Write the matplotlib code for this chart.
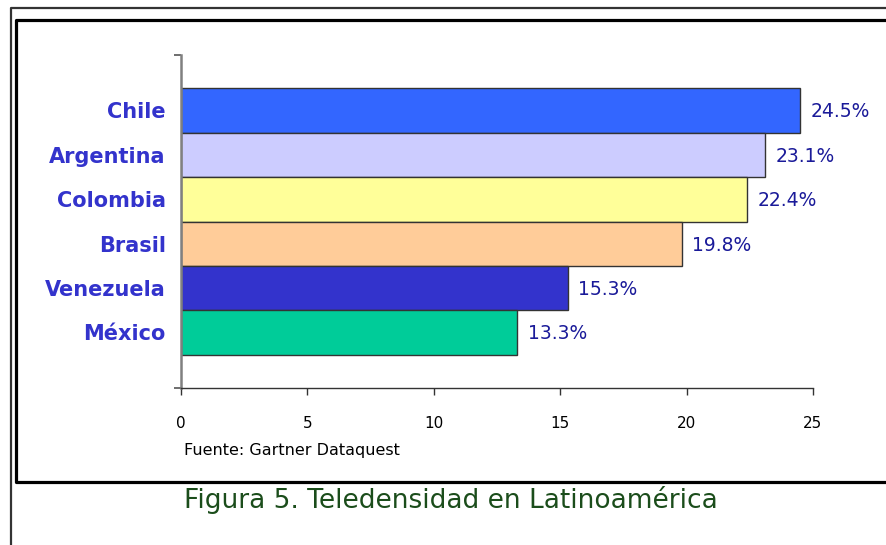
import matplotlib
matplotlib.use('Agg')
import matplotlib.pyplot as plt
from matplotlib.lines import Line2D

# Data
countries = ['Chile', 'Argentina', 'Colombia', 'Brasil', 'Venezuela', 'México']
teledensity = [24.5, 23.1, 22.4, 19.8, 15.3, 13.3]
bar_colors = ['#3366FF', '#CCCCFF', '#FFFF99', '#FFCC99', '#3333CC', '#00CC99']
x_ticks = [0, 5, 10, 15, 20, 25]
source_text = 'Fuente: Gartner Dataquest'
caption_text = 'Figura 5. Teledensidad en Latinoamérica'

W, H = 886, 545
fig = plt.figure(figsize=(W / 100, H / 100), dpi=100)
fig.patch.set_facecolor('white')

# axes placed in pixel terms of the original
left, right, top, bottom = 181, 813, 55, 388
ax = fig.add_axes([left / W, 1 - bottom / H, (right - left) / W, (bottom - top) / H])

pos = list(range(len(countries)))
ax.barh(pos, teledensity, height=1.0, color=bar_colors,
        edgecolor='#333333', linewidth=1.0)

for p, v in zip(pos, teledensity):
    ax.annotate(f'{v:.1f}%', xy=(v, p), xytext=(7.5, -1), textcoords='offset points',
                va='center', ha='left', fontsize=13.5, color='#1A1A99')

ax.set_xlim(0, 25)
ax.set_ylim(len(countries) - 1 + 1.25, -1.25)
ax.set_xticks(x_ticks)
ax.set_xticklabels([str(t) for t in x_ticks])
ax.tick_params(axis='x', direction='out', length=5, width=1, color='#333333',
               pad=15, labelsize=11, labelcolor='black')

ax.set_yticks(pos)
ax.set_yticklabels(countries, fontsize=15, fontweight='bold', color='#3333CC')
for lbl in ax.get_yticklabels():
    lbl.set_y(lbl.get_position()[1])
ax.tick_params(axis='y', length=0, pad=11)
ax.set_yticks([-1.25, len(countries) - 1 + 1.25], minor=True)
ax.tick_params(axis='y', which='minor', direction='out', length=5, width=1.2,
               color='#555555')

ax.spines['top'].set_visible(False)
ax.spines['right'].set_visible(False)
ax.spines['left'].set_color('#808080')
ax.spines['left'].set_linewidth(1.8)
ax.spines['bottom'].set_color('#333333')
ax.spines['bottom'].set_linewidth(1.0)

# source note and caption
fig.text(184 / W, 1 - 451 / H, source_text, fontsize=11.5, color='black',
         ha='left', va='center')
fig.text(184 / W, 1 - 500 / H, caption_text, fontsize=19, color='#1B4D1B',
         ha='left', va='center')

# frames around the chart
def fline(xs, ys, **kw):
    fig.add_artist(Line2D([x / W for x in xs], [1 - y / H for y in ys],
                          transform=fig.transFigure, **kw))

fline([11, 11, W + 5], [H + 5, 8, 8], color='#333333', linewidth=1.6)
fline([W + 5, 16, 16, W + 5], [20, 20, 482, 482], color='black', linewidth=2.3)

fig.savefig('out.png', dpi=100)
